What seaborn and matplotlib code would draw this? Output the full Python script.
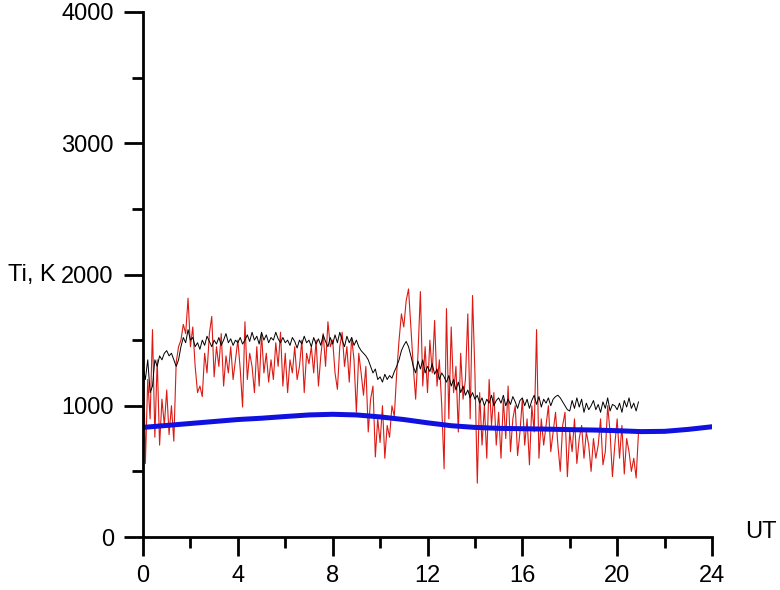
import numpy as np
import pandas as pd
import matplotlib
matplotlib.use("Agg")
import matplotlib.pyplot as plt
from matplotlib.ticker import MultipleLocator
import seaborn as sns

# Ion temperature, measured (red), smoothed (black), model (blue)
red_ti = [
    1600, 560, 1200, 900, 1580, 760, 1350, 700, 1050, 850,
    1120, 780, 1000, 730, 1330, 1450, 1500, 1620, 1550, 1820,
    1450, 1600, 1300, 1100, 1150, 1070, 1400, 1250, 1550, 1680,
    1220, 1450, 1300, 1550, 1150, 1380, 1250, 1450, 1200, 1350,
    1500, 1280, 990, 1640, 1200, 1400, 1300, 1100, 1450, 1150,
    1550, 1250, 1400, 1180, 1350, 1200, 1480, 1300, 1560, 1150,
    1400, 1100, 1350, 1250, 1450, 1200, 1300, 1500, 1100, 1400,
    1320, 1450, 1250, 1500, 1150, 1380, 1550, 1300, 1640, 1450,
    1500, 1250, 1125, 1450, 1560, 1300, 1450, 1180, 1520, 1350,
    950, 1400, 1250, 1080, 1300, 800, 1050, 1150, 610, 900,
    720, 1000, 600, 850, 760, 1000, 920, 1250, 1500, 1700,
    1600, 1800, 1890, 1600, 1300, 1050, 1400, 1870, 1150, 1450,
    1100, 1500, 1250, 1650, 1150, 1350, 1000, 520, 1740, 900,
    1600, 1100, 1300, 800, 1400, 1050, 1200, 1700, 900, 1840,
    1250, 410, 1100, 700, 1000, 600, 1200, 850, 1100, 700,
    950, 600, 1050, 750, 1150, 650, 900, 1000, 620, 800,
    1050, 700, 900, 550, 1000, 800, 1580, 600, 900, 700,
    850, 1000, 650, 800, 950, 700, 500, 850, 950, 460,
    800, 650, 900, 560, 750, 850, 600, 800, 700, 500,
    750, 600, 700, 900, 550, 650, 1000, 800, 460, 700,
    900, 600, 850, 480, 750, 650, 500, 600, 450, 800,
]
black_ti = [
    1300, 1200, 1350, 1100, 1150, 1350, 1300, 1380, 1350, 1400,
    1420, 1380, 1400, 1350, 1300, 1350, 1450, 1520, 1480, 1580,
    1500, 1520, 1450, 1480, 1430, 1500, 1460, 1530, 1490, 1450,
    1500, 1470, 1520, 1460, 1500, 1550, 1480, 1510, 1460, 1500,
    1480, 1520, 1470, 1500, 1540, 1490, 1560, 1500, 1530, 1470,
    1560, 1500, 1540, 1480, 1520, 1500, 1560, 1510, 1480, 1520,
    1480, 1500, 1460, 1520, 1490, 1440, 1500, 1470, 1530, 1480,
    1500, 1450, 1520, 1470, 1510, 1460, 1540, 1490, 1450, 1520,
    1470, 1540, 1480, 1560, 1500, 1450, 1530, 1480, 1520, 1460,
    1500, 1450, 1420, 1400, 1380, 1350, 1300, 1250, 1280, 1200,
    1220, 1180, 1240, 1200, 1230, 1210, 1260, 1300, 1350, 1420,
    1460, 1490, 1450, 1380, 1300, 1250, 1340, 1280, 1350, 1250,
    1300, 1260, 1320, 1240, 1280, 1200, 1250, 1220, 1180, 1230,
    1150, 1200, 1120, 1180, 1100, 1150, 1080, 1120, 1060, 1100,
    1050, 1080, 1020, 1060, 1000, 1050, 1020, 1080, 1000, 1040,
    1060, 1020, 1080, 1000, 1050, 1010, 1070, 1030, 980, 1040,
    1060, 1000, 1050, 980, 1040, 1080, 1010, 1070, 990, 1050,
    1020, 1060, 1000, 1050, 1070, 1080, 1060, 1030, 1000, 970,
    960, 1040, 980, 1060, 990, 1050, 950, 1020, 970, 1000,
    1040, 970, 1010, 950, 1030, 980, 1060, 960, 1010, 1000,
    970, 1020, 950, 1040, 990, 1060, 980, 1020, 960, 1030,
]
meas_ut = [i / 10 for i in range(len(red_ti))]

model_ut = list(range(25))
model_ti = [835, 850, 865, 880, 895, 905, 918, 930, 935, 930, 915, 895, 870,
            848, 835, 828, 825, 822, 818, 815, 810, 803, 805, 820, 840]

df_meas = pd.DataFrame({"UT": meas_ut, "red": red_ti, "black": black_ti})
df_model = pd.DataFrame({"UT": model_ut, "Ti": model_ti})

sns.set_theme(style="ticks")
plt.rcParams["font.family"] = ["Liberation Sans", "DejaVu Sans"]
plt.rcParams["text.color"] = "black"

fig = plt.figure(figsize=(7.8, 5.9), dpi=100)
ax = fig.add_axes([143 / 780, 1 - 537 / 590, 569 / 780, 525 / 590])

sns.lineplot(data=df_meas, x="UT", y="red", ax=ax, color="#dc1a14", lw=0.8)
sns.lineplot(data=df_meas, x="UT", y="black", ax=ax, color="black", lw=0.7)
sns.lineplot(data=df_model, x="UT", y="Ti", ax=ax, color="#1010e0", lw=3.6)

ax.set_xlim(0, 24)
ax.set_ylim(0, 4000)
ax.xaxis.set_major_locator(MultipleLocator(4))
ax.xaxis.set_minor_locator(MultipleLocator(2))
ax.yaxis.set_major_locator(MultipleLocator(1000))
ax.yaxis.set_minor_locator(MultipleLocator(500))
ax.tick_params(which="major", length=14, width=2.0, labelsize=17, pad=7,
               color="black", labelcolor="black")
ax.tick_params(which="minor", length=8, width=2.0, color="black")
ax.tick_params(axis="x", which="major", pad=6)
for s in ["left", "bottom"]:
    ax.spines[s].set_linewidth(2.0)
    ax.spines[s].set_color("black")
sns.despine(ax=ax)
ax.set_xlabel("")
ax.set_ylabel("")

fig.text(8 / 780, 1 - 275 / 590, "Ti, K", fontsize=17, va="center", ha="left")
fig.text(745 / 780, 1 - 532 / 590, "UT", fontsize=17, va="center", ha="left")

fig.savefig("out.png", dpi=100)
